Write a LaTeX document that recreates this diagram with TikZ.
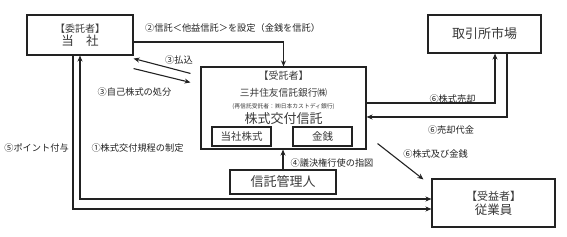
\documentclass[tikz,border=0pt]{standalone}
\usepackage{fontspec}
\setmainfont{Noto Sans CJK JP}
\usetikzlibrary{arrows.meta,calc}
\definecolor{jpink}{HTML}{222222}
\definecolor{jptext}{HTML}{3A3A3A}

\begin{document}
\begin{tikzpicture}[x=1pt,y=-1pt,
  party/.style={draw=jpink, line width=1.1pt, align=center, inner sep=0pt, text=jptext},
  subbox/.style={party, minimum width=59pt, minimum height=19pt, font=\fontsize{10.5}{12}\selectfont},
  txt/.style={inner sep=0pt, text=jptext},
  lbl/.style={inner sep=0pt, text=jpink, font=\fontsize{9.2}{10}\selectfont},
  flow/.style={-{Stealth[length=6pt,width=5pt]}, draw=jpink, line width=1.1pt},
  flowboth/.style={flow, {Stealth[length=6pt,width=5pt]}-{Stealth[length=6pt,width=5pt]}},
  ]
  \useasboundingbox (0,0) rectangle (567,237);

  % parties
  \node[party, minimum width=106pt, minimum height=40pt] (tosha) at (80,35)
    {\fontsize{10}{12}\selectfont【委託者】\\[1pt]\fontsize{12.5}{14}\selectfont 当\hspace{1em}社};
  \node[party, minimum width=113pt, minimum height=38pt] (market) at (484.5,34)
    {\fontsize{13}{15}\selectfont 取引所市場};
  \node[party, minimum width=123pt, minimum height=48pt] (emp) at (493.5,203)
    {\fontsize{11}{13}\selectfont【受益者】\\[2pt]\fontsize{12.5}{14}\selectfont 従業員};
  \node[party, minimum width=106pt, minimum height=24pt] (admin) at (283,182)
    {\fontsize{13}{15}\selectfont 信託管理人};

  % trust and what it holds
  \node[party, minimum width=165pt, minimum height=82pt] (trust) at (283.5,108) {};
  \node[txt, font=\fontsize{10}{12}\selectfont] (trole) at (283.5,76) {【受託者】};
  \node[txt, font=\fontsize{9.7}{12}\selectfont] (tbank) at (283.5,93) {三井住友信託銀行㈱};
  \node[txt, font=\fontsize{5.8}{7}\selectfont] (tsub) at (283.5,107) {(再信託受託者：㈱日本カストディ銀行)};
  \node[txt, font=\fontsize{13}{15}\selectfont] (tname) at (283.5,119) {株式交付信託};
  \node[subbox] (stock) at (241.5,136.5) {当社株式};
  \node[subbox] (money) at (322.5,136.5) {金銭};

  % flows between company and trust
  \draw[flow] ([yshift=-7pt]tosha.east) -| (trust.north);
  \draw[flow] ([shift={(-10pt,-7pt)}]trust.north west) -- ([yshift=-3pt]tosha.south east);
  \draw[flow] ([yshift=-13pt]tosha.south east) -- ([shift={(-10pt,-16pt)}]trust.north west);
  \draw[flowboth] (tosha.south) |- ([yshift=4pt]emp.west);
  \draw[flow] ([xshift=-7pt]tosha.south) |- ([yshift=-6pt]emp.west);
  \draw[flow] (admin.north) -- (admin.north |- trust.south);

  % market and beneficiaries
  \draw[flow] ([yshift=5pt]trust.east) -| ([xshift=10.5pt]market.south);
  \draw[flow] ([xshift=22.5pt]market.south) |- ([yshift=-9pt]trust.east);
  \draw[flow] ([shift={(11pt,6pt)}]trust.south east) -- ([shift={(-8pt,-1pt)}]emp.north west);

  \node[lbl, anchor=west] (l2) at (145,28) {②信託＜他益信託＞を設定（金銭を信託）};
  \node[lbl] (l3a) at (179,60) {③払込};
  \node[lbl] (l3b) at (134.5,92) {③自己株式の処分};
  \node[lbl] (l5) at (36.5,148) {⑤ポイント付与};
  \node[lbl] (l1) at (137.5,148) {①株式交付規程の制定};
  \node[lbl] (l4) at (332,163) {④議決権行使の指図};
  \node[lbl] (l6a) at (452.5,99) {⑥株式売却};
  \node[lbl] (l6b) at (451,130) {⑥売却代金};
  \node[lbl] (l6c) at (435.5,154) {⑥株式及び金銭};
\end{tikzpicture}
\end{document}
